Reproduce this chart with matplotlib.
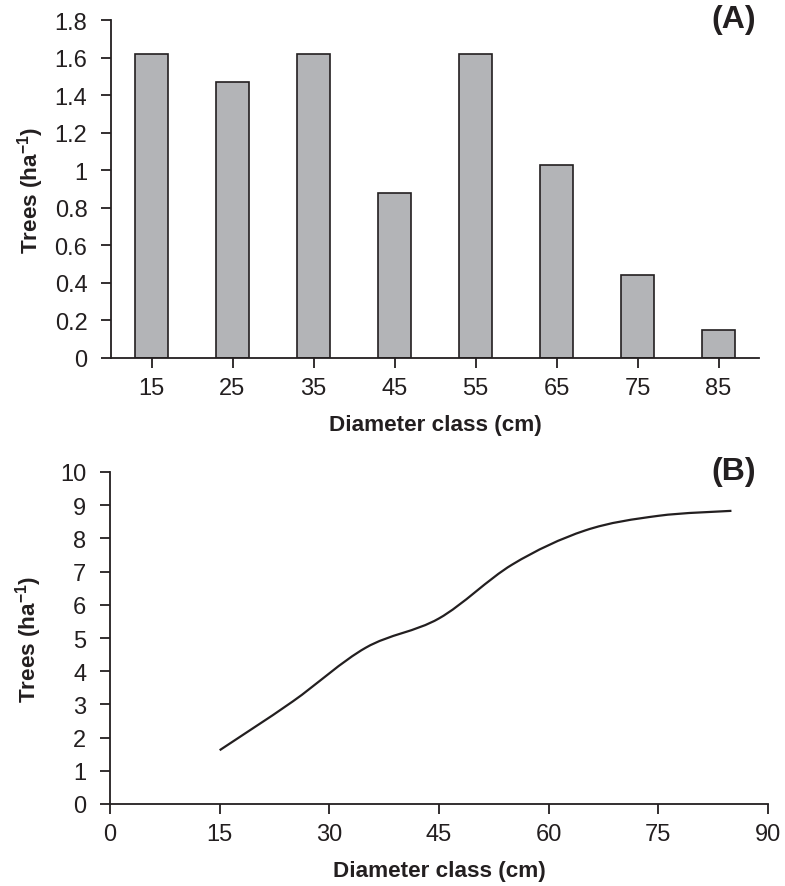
import numpy as np
import matplotlib.pyplot as plt
from matplotlib.path import Path
from matplotlib.patches import PathPatch

plt.rcParams['font.family'] = ['Liberation Sans', 'DejaVu Sans']
plt.rcParams['mathtext.fontset'] = 'custom'
plt.rcParams['mathtext.rm'] = 'Liberation Sans'

# diameter classes and tree density per class
classes = ['15', '25', '35', '45', '55', '65', '75', '85']
density = [1.62, 1.47, 1.62, 0.88, 1.62, 1.03, 0.44, 0.15]

# accumulated density along diameter
diam = [15, 25, 35, 45, 55, 65, 75, 85]
cumulative = [1.62, 3.09, 4.71, 5.59, 7.21, 8.24, 8.68, 8.83]

ink = '#231f20'
W, H = 785, 887
fig = plt.figure(figsize=(W / 100, H / 100), dpi=100)


def style_axes(ax):
    for side in ['top', 'right']:
        ax.spines[side].set_visible(False)
    for side in ['left', 'bottom']:
        ax.spines[side].set_color(ink)
        ax.spines[side].set_linewidth(1.3)
    ax.tick_params(direction='out', length=7, width=1.3, color=ink,
                   labelsize=17, labelcolor=ink)
    ax.tick_params(axis='y', pad=10)
    ax.tick_params(axis='x', pad=7)


# (A) bar chart
axA = fig.add_axes([111 / W, (H - 359) / H, (759 - 111) / W, (359 - 21) / H])
x = np.arange(len(classes))
axA.bar(x, density, width=0.4, color='#b3b4b7', edgecolor=ink, linewidth=1.2)
axA.set_xlim(-0.5, len(classes) - 0.5)
axA.set_ylim(0, 1.8)
axA.set_xticks(x)
axA.set_xticklabels(classes)
axA.set_yticks(np.arange(0, 1.81, 0.2))
axA.set_yticklabels(['0', '0.2', '0.4', '0.6', '0.8', '1', '1.2', '1.4', '1.6', '1.8'])
style_axes(axA)
axA.set_xlabel('Diameter class (cm)', fontsize=16.2, fontweight='bold', color=ink)
axA.set_ylabel('Trees (ha$^{\\mathregular{-1}}$)', fontsize=16.2, fontweight='bold', color=ink)
axA.xaxis.set_label_coords(0.5, -0.165)
axA.yaxis.set_label_coords(-0.1, 0.5)
fig.text(756 / W, 1 - 20 / H, '(A)', fontsize=23, fontweight='bold', color=ink,
         ha='right', va='center')

# (B) smoothed line
axB = fig.add_axes([110 / W, (H - 805) / H, (768 - 110) / W, (805 - 473) / H])
axB.set_xlim(0, 90)
axB.set_ylim(0, 10)
axB.set_xticks(np.arange(0, 91, 15))
axB.set_yticks(np.arange(0, 11, 1))
style_axes(axB)

# smooth curve through the points (cubic Bezier segments)
pts = np.column_stack([diam, cumulative]).astype(float)
ext = np.vstack([pts[0], pts, pts[-1]])
verts = [pts[0]]
codes = [Path.MOVETO]
for i in range(len(pts) - 1):
    p0, p1, p2, p3 = ext[i], ext[i + 1], ext[i + 2], ext[i + 3]
    verts += [p1 + (p2 - p0) / 6, p2 - (p3 - p1) / 6, p2]
    codes += [Path.CURVE4] * 3
axB.add_patch(PathPatch(Path(verts, codes), facecolor='none', edgecolor=ink, linewidth=1.6))

axB.set_xlabel('Diameter class (cm)', fontsize=16.2, fontweight='bold', color=ink)
axB.set_ylabel('Trees (ha$^{\\mathregular{-1}}$)', fontsize=16.2, fontweight='bold', color=ink)
axB.xaxis.set_label_coords(0.5, -0.17)
axB.yaxis.set_label_coords(-0.1, 0.5)
fig.text(756 / W, 1 - 472 / H, '(B)', fontsize=23, fontweight='bold', color=ink,
         ha='right', va='center')

plt.savefig('out.png', dpi=100)
